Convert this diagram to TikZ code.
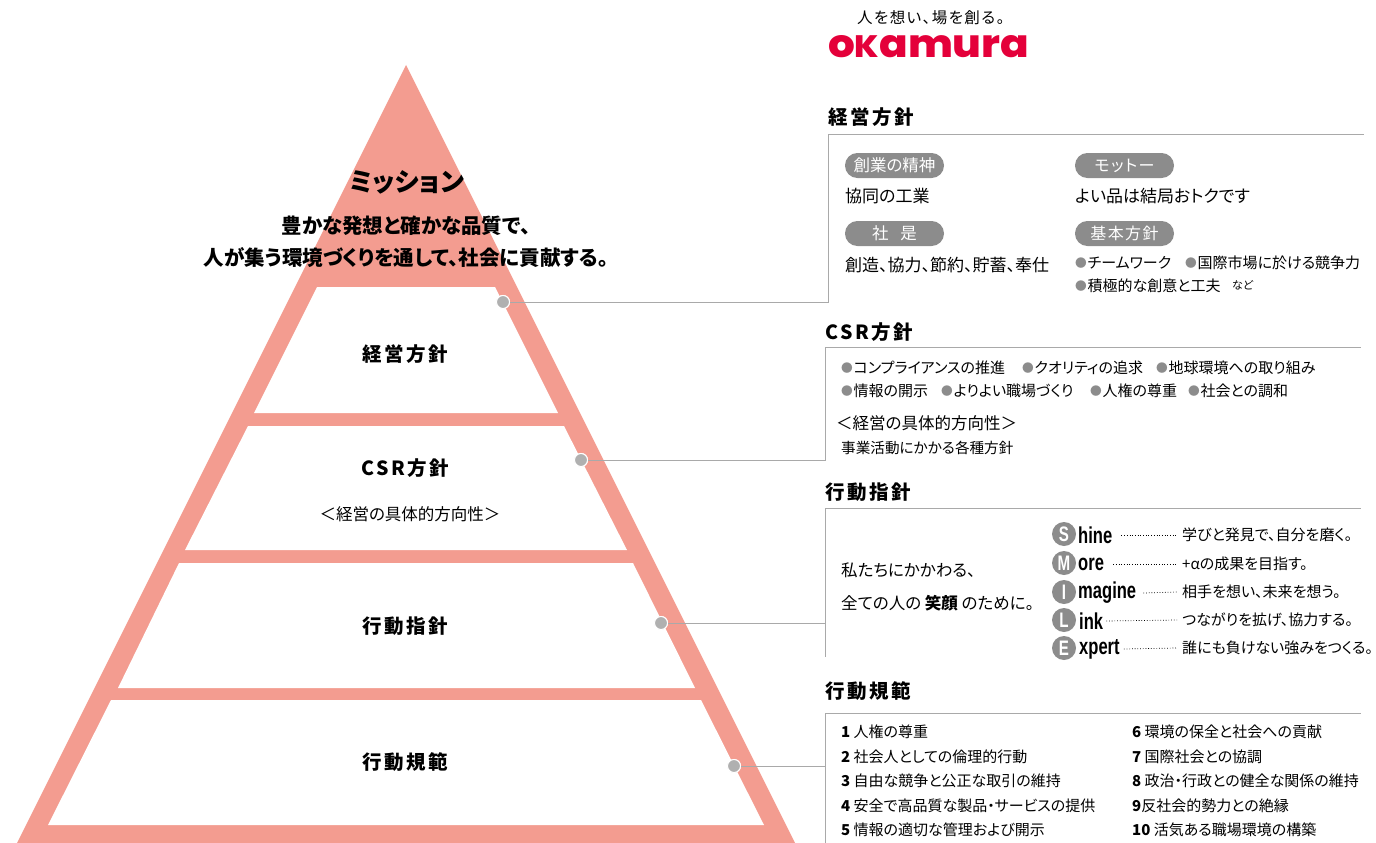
\documentclass[tikz,border=0pt]{standalone}
\usepackage{fontspec}
\usepackage{graphicx}
\setmainfont{Noto Sans CJK JP}[RawFeature={+palt}]
\newfontfamily\titlef{Noto Sans CJK JP Black}[RawFeature={+palt},LetterSpace=13]
\newfontfamily\heavyf{Noto Sans CJK JP Black}[RawFeature={+palt}]
\newfontfamily\spacedf{Noto Sans CJK JP}[RawFeature={+palt},LetterSpace=9]
\newfontfamily\condf{Liberation Sans Bold}[FakeStretch=0.72]
\newfontfamily\logof{Poppins ExtraBold}
\newcommand{\fz}[1]{\fontsize{#1}{#1}\selectfont}
\definecolor{pyr}{HTML}{F39C90}
\definecolor{linegray}{HTML}{A9A9A9}
\definecolor{dotgray}{HTML}{B0B0B0}
\definecolor{pillgray}{HTML}{8C8C8C}
\definecolor{logored}{HTML}{E4003A}
\newcommand{\bu}{{\color{pillgray}\raisebox{.06em}{\scalebox{.78}{●}}}\hspace{.05em}}
\tikzset{
 txt/.style={inner sep=0pt,anchor=west,text=black},
 t14/.style={txt,font=\fz{15}},
 t16/.style={txt,font=\fz{16.5}},
 t17/.style={txt,font=\fz{17}},
 sect/.style={txt,font=\titlef\fz{19.5}},
 ptitle/.style={inner sep=0pt,font=\titlef\fz{19.5}},
 pill/.style={fill=pillgray,rounded corners=12.4pt,minimum width=99pt,minimum height=25pt,inner sep=0pt,text=white,font=\fz{16.5}},
 pills/.style={pill,font=\spacedf\fz{16}},
 dotn/.style={circle,fill=dotgray,draw=white,line width=1pt,minimum size=13pt,inner sep=0pt},
 conn/.style={draw=linegray,line width=1pt},
 lett/.style={circle,fill=pillgray,minimum size=24pt,inner sep=0pt,text=white,font=\condf\fz{21}},
 word/.style={txt,font=\condf\fz{23}},
 leader/.style={draw=black,line width=.7pt,dash pattern=on .8pt off 1.9pt},
}
\begin{document}
\begin{tikzpicture}[x=1pt,y=-1pt]
\useasboundingbox (0,0) rectangle (1376,843);
% pyramid
\fill[pyr] (406,65) -- (795,843) -- (17,843) -- cycle;
\fill[white] (317,287) -- (495,287) -- (558,413) -- (254,413) -- cycle;
\fill[white] (248,426) -- (564,426) -- (627,550) -- (185,550) -- cycle;
\fill[white] (179,563) -- (633,563) -- (695,688) -- (118,688) -- cycle;
\fill[white] (111,700) -- (701,700) -- (764,825) -- (48,825) -- cycle;
% pyramid text
\node[inner sep=0pt,font=\heavyf\fz{26}] (mis) at (407,182) {ミッション};
\node[inner sep=0pt,font=\heavyf\fz{20.5}] (mis1) at (406,226) {豊かな発想と確かな品質で、};
\node[inner sep=0pt,font=\heavyf\fz{20.5}] (mis2) at (406,258) {人が集う環境づくりを通して、社会に貢献する。};
\node[ptitle] (p1) at (405,354) {経営方針};
\node[ptitle] (p2) at (405,468) {CSR方針};
\node[inner sep=0pt,font=\fz{16.5}] (p2b) at (410,514) {＜経営の具体的方向性＞};
\node[ptitle] (p3) at (405,626) {行動指針};
\node[ptitle] (p4) at (405,762) {行動規範};
% logo
\node[txt,font=\spacedf\fz{15.5}] (tag) at (857,18) {人を想い、場を創る。};
\node[txt,text=logored,font=\logof] (logo) at (828,47) {\resizebox{201pt}{22pt}{o\scalebox{.8}{K}amura}};
% connectors
\node[dotn] (d1) at (503,302) {};
\node[dotn] (d2) at (581,460) {};
\node[dotn] (d3) at (661,623) {};
\node[dotn] (d4) at (734,766) {};
\coordinate (e1a) at (828,302); \coordinate (e1b) at (828,134); \coordinate (e1c) at (1364,134);
\coordinate (e2a) at (825,460); \coordinate (e2b) at (825,347); \coordinate (e2c) at (1361,347);
\coordinate (e3a) at (825,623); \coordinate (e3s) at (825,657); \coordinate (e3b) at (825,508); \coordinate (e3c) at (1361,508);
\coordinate (e4a) at (825,766); \coordinate (e4s) at (825,843); \coordinate (e4b) at (825,713); \coordinate (e4c) at (1361,713);
\draw[conn] (d1) -- (e1a) -- (e1b) -- (e1c);
\draw[conn] (d2) -- (e2a) -- (e2b) -- (e2c);
\draw[conn] (d3) -- (e3a);
\draw[conn] (e3s) -- (e3b) -- (e3c);
\draw[conn] (d4) -- (e4a);
\draw[conn] (e4s) -- (e4b) -- (e4c);
\node[dotn] at (d1) {};
\node[dotn] at (d2) {};
\node[dotn] at (d3) {};
\node[dotn] at (d4) {};
% section 1
\node[sect] (s1) at (828,117) {経営方針};
\node[pill] (pa) at (894.5,165.5) {創業の精神};
\node[pills] (pb) at (1124.5,165.5) {モットー};
\node[pill] (pc) at (894.5,233.5) {社\hspace{.7em}是};
\node[pills] (pd) at (1124.5,233.5) {基本方針};
\node[t17] (a1) at (845,196) {協同の工業};
\node[t17] (b1) at (1075,196) {よい品は結局おトクです};
\node[t17] (c1) at (845,265) {創造、協力、節約、貯蓄、奉仕};
\node[t14] (d1a) at (1075,263) {\bu チームワーク};
\node[t14] (d1b) at (1185,263) {\bu 国際市場に於ける競争力};
\node[t14] (d1c) at (1075,286) {\bu 積極的な創意と工夫};
\node[txt,font=\fz{11}] (d1d) at (1232,285) {など};
% section 2
\node[sect] (s2) at (825,332) {CSR方針};
\node[t14] (c11) at (841,368) {\bu コンプライアンスの推進};
\node[t14] (c12) at (1022,368) {\bu クオリティの追求};
\node[t14] (c13) at (1156,368) {\bu 地球環境への取り組み};
\node[t14] (c21) at (841,391) {\bu 情報の開示};
\node[t14] (c22) at (941,391) {\bu よりよい職場づくり};
\node[t14] (c23) at (1090,391) {\bu 人権の尊重};
\node[t14] (c24) at (1188,391) {\bu 社会との調和};
\node[t16] (c3) at (836,423) {＜経営の具体的方向性＞};
\node[txt,font=\fz{14.6}] (c4) at (841,448) {事業活動にかかる各種方針};
% section 3
\node[sect] (s3) at (825,492) {行動指針};
\node[t16] (l1) at (841,570) {私たちにかかわる、};
\node[t16] (l2) at (841,603) {全ての人の \textbf{笑顔} のために。};
\node[lett] (ls) at (1064,534) {S};
\node[lett] (lm) at (1064,563) {M};
\node[lett] (li) at (1064,592) {I};
\node[lett] (ll) at (1064,620) {L};
\node[lett] (le) at (1064,648) {E};
\node[word] (ws) at (1078,535) {hine};
\node[word] (wm) at (1078,564) {ore};
\node[word] (wi) at (1078,593) {magine};
\node[word] (wl) at (1079,621) {ink};
\node[word] (we) at (1079,649) {xpert};
\node[t14] (ts) at (1182,535) {学びと発見で、自分を磨く。};
\node[t14] (tm) at (1182,564) {+αの成果を目指す。};
\node[t14] (ti) at (1182,592) {相手を想い、未来を想う。};
\node[t14] (tl) at (1182,620) {つながりを拡げ、協力する。};
\node[t14] (te) at (1182,648) {誰にも負けない強みをつくる。};
\draw[leader] ([xshift=9pt]ws.east) -- ([xshift=-5pt]ts.west);
\draw[leader] ([xshift=9pt]wm.east) -- ([xshift=-5pt]tm.west);
\draw[leader] ([xshift=7pt]wi.east) -- ([xshift=-5pt]ti.west);
\draw[leader] ([xshift=3pt]wl.east) -- ([xshift=-5pt]tl.west);
\draw[leader] ([xshift=4pt]we.east) -- ([xshift=-5pt]te.west);
% section 4
\node[sect] (s4) at (825,691) {行動規範};
\node[t14] (n1) at (841,732) {\textbf{1} 人権の尊重};
\node[t14] (n2) at (841,757) {\textbf{2} 社会人としての倫理的行動};
\node[t14] (n3) at (841,781) {\textbf{3} 自由な競争と公正な取引の維持};
\node[t14] (n4) at (841,806) {\textbf{4} 安全で高品質な製品・サービスの提供};
\node[t14] (n5) at (841,830) {\textbf{5} 情報の適切な管理および開示};
\node[t14] (n6) at (1132,732) {\textbf{6} 環境の保全と社会への貢献};
\node[t14] (n7) at (1132,757) {\textbf{7} 国際社会との協調};
\node[t14] (n8) at (1132,781) {\textbf{8} 政治・行政との健全な関係の維持};
\node[t14] (n9) at (1132,806) {\textbf{9}反社会的勢力との絶縁};
\node[t14] (n10) at (1132,830) {\textbf{10} 活気ある職場環境の構築};
\end{tikzpicture}
\end{document}
